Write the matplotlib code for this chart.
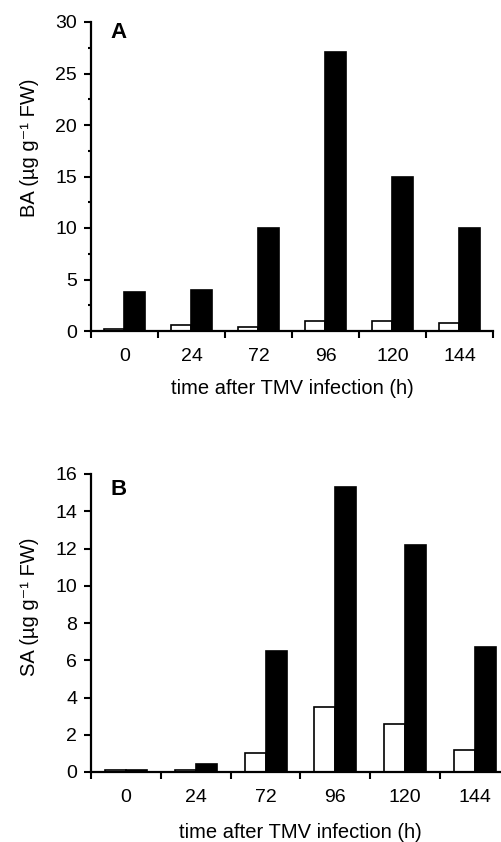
import matplotlib
matplotlib.use("Agg")
import matplotlib.pyplot as plt
import numpy as np
from matplotlib.ticker import FixedLocator, NullFormatter, FixedFormatter

plt.rcParams['font.family'] = ['Liberation Sans', 'DejaVu Sans']

times = ["0", "24", "72", "96", "120", "144"]
ba_white = [0.2, 0.6, 0.4, 1.0, 1.0, 0.8]
ba_black = [3.8, 4.0, 10.0, 27.1, 15.0, 10.0]
sa_white = [0.1, 0.1, 1.0, 3.5, 2.6, 1.2]
sa_black = [0.1, 0.45, 6.5, 15.3, 12.2, 6.7]

W, H = 502, 842
fig = plt.figure(figsize=(W / 100, H / 100), dpi=100)

def px_axes(left, right, top, bottom):
    return fig.add_axes([left / W, 1 - bottom / H, (right - left) / W, (bottom - top) / H])

axA = px_axes(91, 493, 22, 331)
axB = px_axes(91, 510, 474, 772)

def draw(ax, white, black, ymax, major, minor, ylabel, ylab_xy, xlab_y, letter, letter_xy):
    x = np.arange(len(times))
    bw = 0.3
    ax.bar(x - bw / 2, white, width=bw, color='white', edgecolor='black', linewidth=1.2, zorder=2)
    ax.bar(x + bw / 2, black, width=bw, color='black', edgecolor='black', linewidth=1.2, zorder=2)
    ax.set_xlim(-0.5, len(times) - 0.5)
    ax.set_ylim(0, ymax)
    for s in ['top', 'right']:
        ax.spines[s].set_visible(False)
    for s in ['left', 'bottom']:
        ax.spines[s].set_linewidth(1.6)
    ax.xaxis.set_major_locator(FixedLocator(np.arange(len(times) + 1) - 0.5))
    ax.xaxis.set_major_formatter(NullFormatter())
    ax.xaxis.set_minor_locator(FixedLocator(x))
    ax.xaxis.set_minor_formatter(FixedFormatter(times))
    ax.tick_params(axis='x', which='major', direction='out', length=5, width=1.5)
    ax.tick_params(axis='x', which='minor', length=0, pad=12.5, labelsize=14)
    ax.set_yticks(major)
    if minor is not None:
        ax.set_yticks(minor, minor=True)
    ax.tick_params(axis='y', which='major', direction='out', length=5, width=1.5, labelsize=14, pad=5)
    ax.tick_params(axis='y', which='minor', direction='out', length=2.5, width=1.5)
    ax.set_ylabel(ylabel, fontsize=14.5)
    ax.yaxis.set_label_coords(*ylab_xy)
    ax.set_xlabel("time after TMV infection (h)", fontsize=14.5)
    ax.xaxis.set_label_coords(0.5, xlab_y)
    ax.xaxis.label.set_va('center')
    ax.yaxis.label.set_va('center')
    fig.text(letter_xy[0] / W, 1 - letter_xy[1] / H, letter, fontsize=16,
             fontweight='bold', ha='center', va='center')

draw(axA, ba_white, ba_black, 30, [0, 5, 10, 15, 20, 25, 30],
     [2.5, 7.5, 12.5, 17.5, 22.5, 27.5], "BA (µg g⁻¹ FW)",
     ((30 - 91) / 402, 0.592), -(388 - 331) / 309, "A", (119, 32.5))
draw(axB, sa_white, sa_black, 16, [0, 2, 4, 6, 8, 10, 12, 14, 16], None,
     "SA (µg g⁻¹ FW)", ((30 - 91) / 419, 0.554), -(832 - 772) / 298, "B", (119, 489.5))

fig.savefig("out.png", dpi=100)
